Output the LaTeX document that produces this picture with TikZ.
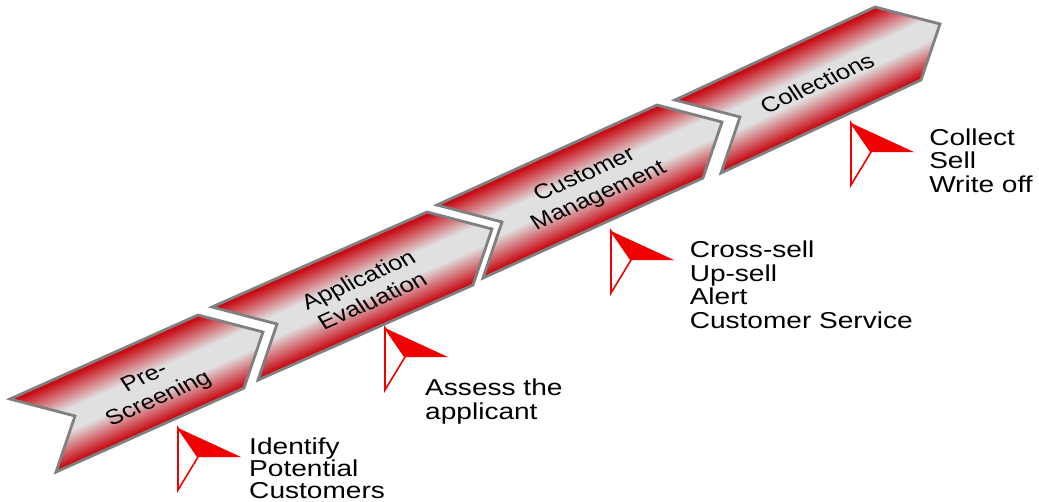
\documentclass[tikz,border=0pt]{standalone}
\usepackage{fontspec}
\setmainfont{Liberation Sans}
\usetikzlibrary{calc}
\definecolor{chevred}{RGB}{200,12,22}
\definecolor{chevgray}{RGB}{224,224,224}
\definecolor{chevedge}{RGB}{128,128,128}
\definecolor{markred}{RGB}{240,0,0}
% pgf maps 25bp..75bp of the shading onto the shaded path
\pgfdeclareverticalshading{chev}{100bp}{color(0bp)=(chevred); color(26.5bp)=(chevred); color(44bp)=(chevgray); color(56bp)=(chevgray); color(73.5bp)=(chevred); color(100bp)=(chevred)}
\tikzset{
  chevline/.style={draw=chevedge, line width=2.8pt, line join=miter},
  listtext/.style={anchor=north west, inner sep=0pt, align=left, xscale=1.22, font=\fontsize{23}{23.5}\selectfont},
  chevtext/.style={inner sep=0pt, align=center, xscale=1.22, rotate=28.5, font=\fontsize{21}{24}\selectfont},
  markfill/.style={fill=markred},
  markline/.style={draw=markred, line width=1.6pt, line join=miter}
}
% #1 name, #2 TLx, #3 TLy, #4 TRx, #5 TRy (image pixel coordinates)
\newcommand\mychev[5]{%
  \pgfmathsetmacro\myux{(#4-#2)/100}%
  \pgfmathsetmacro\myuy{-(#5-#3)/100}%
  \coordinate (#1-tl) at (#2,#3);
  \coordinate (#1-tr) at (#4,#5);
  \coordinate (#1-tip) at ($(#1-tr)+(65,17)$);
  \coordinate (#1-br) at ($(#1-tr)+(46,73)$);
  \coordinate (#1-bl) at ($(#1-tl)+(46,73)$);
  \coordinate (#1-notch) at ($(#1-tl)+(65,17)$);
  \begin{scope}
    \clip (#1-tl) -- (#1-tr) -- (#1-tip) -- (#1-br) -- (#1-bl) -- (#1-notch) -- cycle;
    \begin{scope}[transform canvas={cm={\myux,\myuy,0.46,-0.73,(#2,#3)}}]
      \shade[shading=chev] (-10pt,0pt) rectangle (140pt,100pt);
    \end{scope}
  \end{scope}
  \draw[chevline] (#1-tl) -- (#1-tr) -- (#1-tip) -- (#1-br) -- (#1-bl) -- (#1-notch) -- cycle;
}
% #1 name, #2 Ax, #3 Ay
\newcommand\mymark[3]{%
  \coordinate (#1-a) at (#2,#3);
  \coordinate (#1-b) at ($(#1-a)+(63,29)$);
  \coordinate (#1-c) at ($(#1-a)+(20,29)$);
  \coordinate (#1-d) at ($(#1-a)+(0,62)$);
  \fill[markfill] (#1-a) -- (#1-b) -- (#1-c) -- cycle;
  \draw[markline] (#1-a) -- (#1-c) -- (#1-d) -- cycle;
}
\begin{document}
\begin{tikzpicture}[x=1pt,y=-1pt]
\useasboundingbox[fill=white] (0,0) rectangle (1039,501);

\mychev{ps}{10}{399}{198}{315}
\mychev{ae}{212}{307}{427}{212}
\mychev{cm}{437}{205}{657}{105}
\mychev{co}{675}{100}{875}{7}

\node[chevtext] (psl) at (152,389) {Pre-\\Screening};
\node[chevtext] (ael) at (365,290) {Application\\Evaluation};
\node[chevtext] (cml) at (592,186) {Customer\\Management};
\node[chevtext] (col) at (817,83) {Collections};

\mymark{psm}{178}{428}
\mymark{aem}{385}{328}
\mymark{cmm}{611}{231}
\mymark{com}{851}{123}

\node[listtext, font=\fontsize{23}{22}\selectfont] (pst) at (249,434) {\rule{0pt}{20pt}Identify\\Potential\\Customers};
\node[listtext] (aet) at (425,375.5) {\rule{0pt}{20pt}Assess the\\applicant};
\node[listtext] (cmt) at (689.5,237.5) {\rule{0pt}{20pt}Cross-sell\\Up-sell\\Alert\\Customer Service};
\node[listtext] (cot) at (929,125) {\rule{0pt}{20pt}Collect\\Sell\\Write off};
\end{tikzpicture}
\end{document}
